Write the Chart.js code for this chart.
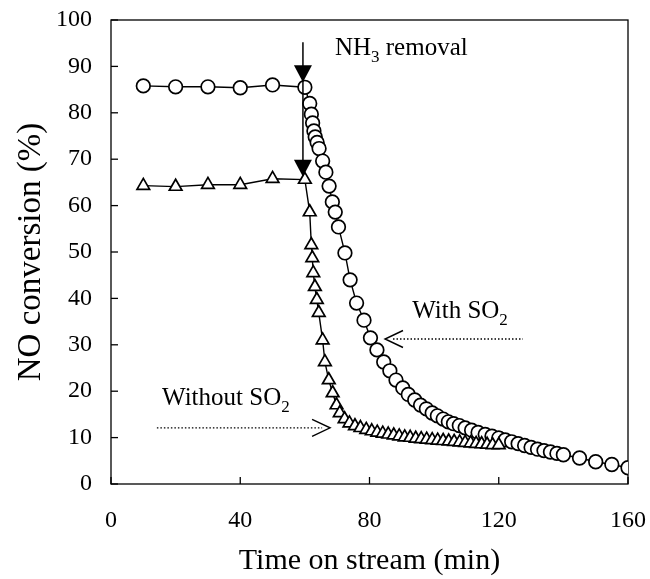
<!DOCTYPE html>
<html>
<head>
<meta charset="utf-8">
<script src="https://cdn.jsdelivr.net/npm/chart.js@4.4.0/dist/chart.umd.min.js"></script>
<style>
  html, body { margin: 0; padding: 0; background: #fff; }
  #contenedor { width: 650px; height: 579px; }
</style>
</head>
<body>
<div id="contenedor"><canvas id="grafico"></canvas></div>
<script>
// Con SO2 (circulos)
const tiempoConSO2 = [10, 20, 30, 40, 50, 60, 61.5, 62, 62.4, 62.8, 63.2, 63.8, 64.4, 65.5, 66.5, 67.5, 68.5, 69.4, 70.4, 72.4,
    74, 76, 78.3, 80.3, 82.3, 84.4, 86.3, 88.2, 90.3, 92, 94, 95.8, 97.6, 99.4, 101, 102.8, 104.4, 106, 107.8, 109.6,
    111.6, 113.6, 115.8, 117.9, 120, 122, 124, 126, 128, 130, 132, 134, 136, 138, 140, 145, 150, 155, 160];
const conversionConSO2 = [85.8, 85.6, 85.6, 85.4, 86.0, 85.5, 82.0, 79.7, 77.8, 76.1, 74.8, 73.6, 72.3, 69.6, 67.2, 64.2, 60.8, 58.6, 55.4, 49.8,
    44.0, 39.0, 35.3, 31.5, 28.9, 26.3, 24.4, 22.4, 20.7, 19.3, 18.1, 17.0, 16.2, 15.3, 14.7, 14.0, 13.4, 13.0, 12.6, 12.1,
    11.6, 11.1, 10.7, 10.3, 9.9, 9.5, 9.1, 8.7, 8.3, 7.9, 7.5, 7.2, 6.9, 6.6, 6.3, 5.6, 4.8, 4.2, 3.5];

// Sin SO2 (triangulos)
const tiempoSinSO2 = [10, 20, 30, 40, 50, 60, 61.5, 62, 62.3, 62.6, 63.1, 63.7, 64.3, 65.5, 66.2, 67.4, 68.6, 69.8, 70.8, 72.3,
    73.8, 75.5, 77.2, 79, 80.7, 82.4, 84.1, 85.8, 87.5, 89.2, 90.9, 92.6, 94.3, 96, 97.7, 99.4, 101.1, 102.8, 104.5, 106.2,
    107.9, 109.6, 111.3, 113, 114.7, 116.4, 118.1, 120];
const conversionSinSO2 = [64.3, 64.1, 64.5, 64.5, 65.8, 65.6, 58.6, 51.5, 48.7, 45.5, 42.5, 39.7, 36.9, 31.0, 26.3, 22.4, 19.6, 17.0, 15.3, 14.0,
    13.1, 12.5, 12.1, 11.7, 11.4, 11.1, 10.9, 10.7, 10.5, 10.3, 10.1, 10.0, 9.8, 9.7, 9.6, 9.5, 9.4, 9.3, 9.2, 9.1,
    9.0, 8.9, 8.8, 8.7, 8.6, 8.5, 8.4, 8.4];

// Punto relleno (negro)
const tiempoRelleno = [120];
const conversionRelleno = [9.9];

const ticksX = [0, 40, 80, 120, 160];
const ticksY = [0, 10, 20, 30, 40, 50, 60, 70, 80, 90, 100];

const fuente = 'Liberation Serif, Times New Roman, serif';

function aPuntos(xs, ys) {
    return xs.map((x, i) => ({ x: x, y: ys[i] }));
}

// Texto con subindice (ej. NH3, SO2)
function textoSub(ctx, partes, x, y, tam) {
    let cx = x;
    partes.forEach(p => {
        if (p.sub) {
            ctx.font = Math.round(tam * 0.68) + 'px ' + fuente;
            ctx.fillText(p.t, cx, y + tam * 0.28);
        } else {
            ctx.font = tam + 'px ' + fuente;
            ctx.fillText(p.t, cx, y);
        }
        cx += ctx.measureText(p.t).width;
    });
}

const marcoPlugin = {
    id: 'marco',
    beforeDatasetsDraw(chart) {
        const { ctx, chartArea: a, scales: { x, y } } = chart;
        ctx.save();
        ctx.strokeStyle = '#000';
        ctx.lineWidth = 1.3;
        ctx.strokeRect(a.left, a.top, a.right - a.left, a.bottom - a.top);
        // marcas hacia adentro
        ticksX.forEach(v => {
            const px = x.getPixelForValue(v);
            ctx.beginPath();
            ctx.moveTo(px, a.bottom);
            ctx.lineTo(px, a.bottom - 7);
            ctx.stroke();
        });
        ticksY.forEach(v => {
            const py = y.getPixelForValue(v);
            ctx.beginPath();
            ctx.moveTo(a.left, py);
            ctx.lineTo(a.left + 7, py);
            ctx.stroke();
        });
        ctx.restore();
    },
    afterDatasetsDraw(chart) {
        const { ctx, scales: { x, y } } = chart;
        ctx.save();
        ctx.fillStyle = '#000';
        ctx.strokeStyle = '#000';

        // Flecha NH3 removal
        const ax = x.getPixelForValue(59.4);
        ctx.lineWidth = 1.5;
        ctx.beginPath();
        ctx.moveTo(ax, y.getPixelForValue(95.2));
        ctx.lineTo(ax, y.getPixelForValue(69.8));
        ctx.stroke();
        [86.6, 66.2].forEach(v => {
            const tip = y.getPixelForValue(v);
            ctx.beginPath();
            ctx.moveTo(ax, tip);
            ctx.lineTo(ax - 9, tip - 17);
            ctx.lineTo(ax + 9, tip - 17);
            ctx.closePath();
            ctx.fill();
        });
        ctx.textBaseline = 'alphabetic';
        textoSub(ctx, [{ t: 'NH' }, { t: '3', sub: true }, { t: ' removal' }],
            x.getPixelForValue(69.3), y.getPixelForValue(92.5), 25);

        // With SO2
        textoSub(ctx, [{ t: 'With SO' }, { t: '2', sub: true }],
            x.getPixelForValue(93.2), y.getPixelForValue(35.8), 25);
        const w1 = x.getPixelForValue(84.8), w2 = x.getPixelForValue(127.5), wy = y.getPixelForValue(31.25);
        ctx.lineWidth = 1.4;
        ctx.setLineDash([1.5, 2]);
        ctx.beginPath();
        ctx.moveTo(w1 + 8, wy);
        ctx.lineTo(w2, wy);
        ctx.stroke();
        ctx.setLineDash([]);
        ctx.beginPath();
        ctx.moveTo(w1 + 18, wy - 8.5);
        ctx.lineTo(w1, wy);
        ctx.lineTo(w1 + 18, wy + 8.5);
        ctx.stroke();

        // Without SO2
        textoSub(ctx, [{ t: 'Without SO' }, { t: '2', sub: true }],
            x.getPixelForValue(15.8), y.getPixelForValue(17.0), 25);
        const s1 = x.getPixelForValue(14.2), s2 = x.getPixelForValue(67.8), sy = y.getPixelForValue(12.1);
        ctx.setLineDash([1.5, 2]);
        ctx.beginPath();
        ctx.moveTo(s1, sy);
        ctx.lineTo(s2 - 8, sy);
        ctx.stroke();
        ctx.setLineDash([]);
        ctx.beginPath();
        ctx.moveTo(s2 - 18, sy - 8.5);
        ctx.lineTo(s2, sy);
        ctx.lineTo(s2 - 18, sy + 8.5);
        ctx.stroke();
        ctx.restore();
    }
};

const data = {
    datasets: [
        {
            label: 'Without SO2',
            data: aPuntos(tiempoSinSO2, conversionSinSO2),
            showLine: true,
            borderColor: '#000',
            borderWidth: 1.4,
            pointStyle: 'triangle',
            pointRadius: 7.3,
            pointBorderWidth: 1.7,
            pointBackgroundColor: '#fff',
            pointBorderColor: '#000'
        },
        {
            label: 'With SO2',
            data: aPuntos(tiempoConSO2, conversionConSO2),
            showLine: true,
            borderColor: '#000',
            borderWidth: 1.4,
            pointStyle: 'circle',
            pointRadius: 6.8,
            pointBorderWidth: 1.7,
            pointBackgroundColor: '#fff',
            pointBorderColor: '#000'
        },
        {
            label: 'relleno',
            data: aPuntos(tiempoRelleno, conversionRelleno),
            showLine: false,
            pointStyle: 'circle',
            pointRadius: 6.8,
            pointBorderWidth: 1.7,
            pointBackgroundColor: '#000',
            pointBorderColor: '#000'
        }
    ]
};

const config = {
    type: 'scatter',
    data: data,
    options: {
        responsive: true,
        maintainAspectRatio: false,
        animation: false,
        layout: { padding: { top: 20, right: 22, left: 0, bottom: 0 } },
        plugins: {
            legend: { display: false },
            tooltip: { enabled: false }
        },
        scales: {
            x: {
                type: 'linear',
                min: 0,
                max: 160,
                afterBuildTicks: s => { s.ticks = ticksX.map(v => ({ value: v })); },
                afterFit: s => { s.height = 95; s.paddingLeft = 0; s.paddingRight = 0; },
                grid: { display: false, drawTicks: false },
                border: { display: false },
                ticks: { color: '#000', padding: 22, font: { family: fuente, size: 24 } },
                title: {
                    display: true,
                    text: 'Time on stream (min)',
                    color: '#000',
                    font: { family: fuente, size: 30 },
                    padding: { top: 0, bottom: 0 }
                }
            },
            y: {
                type: 'linear',
                min: 0,
                max: 100,
                afterBuildTicks: s => { s.ticks = ticksY.map(v => ({ value: v })); },
                afterFit: s => { s.width = 111; s.paddingTop = 0; s.paddingBottom = 0; },
                grid: { display: false, drawTicks: false },
                border: { display: false },
                ticks: { color: '#000', padding: 19, font: { family: fuente, size: 24 } },
                title: {
                    display: true,
                    text: 'NO conversion (%)',
                    color: '#000',
                    font: { family: fuente, size: 33 },
                    padding: { top: 12, bottom: 0 }
                }
            }
        }
    },
    plugins: [marcoPlugin]
};

// Crear el gráfico
const chartInstance = new Chart(document.querySelector('#grafico'), config);
</script>
</body>
</html>
